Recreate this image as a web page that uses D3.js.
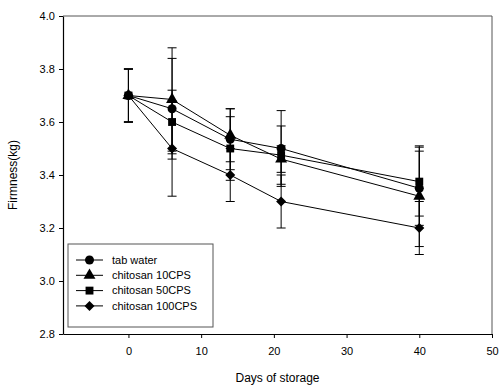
<!DOCTYPE html>
<html><head><meta charset="utf-8">
<script src="https://cdn.jsdelivr.net/npm/d3@7"></script>
<style>body{margin:0;background:#fff}svg{display:block}text{font-family:"Liberation Sans",Arial,sans-serif;fill:#000}</style>
</head><body><div id="chart"></div>
<script>
const days = [0, 6, 14, 21, 40];
const seriesNames = ["tab water", "chitosan 10CPS", "chitosan 50CPS", "chitosan 100CPS"];
const tabWater    = [3.70, 3.65, 3.535, 3.50, 3.35];
const chitosan10  = [3.70, 3.685, 3.55, 3.46, 3.32];
const chitosan50  = [3.70, 3.60, 3.50, 3.475, 3.375];
const chitosan100 = [3.70, 3.50, 3.40, 3.30, 3.20];
const errTabWater    = [0.10, 0.19, 0.115, 0.143, 0.14];
const errChitosan10  = [0.10, 0.195, 0.10, 0.05, 0.19];
const errChitosan50  = [0.10, 0.12, 0.12, 0.11, 0.13];
const errChitosan100 = [0.10, 0.18, 0.10, 0.10, 0.10];
const xTicks = [0, 10, 20, 30, 40, 50];
const yTicks = [2.8, 3.0, 3.2, 3.4, 3.6, 3.8, 4.0];
const markers = [d3.symbolCircle, d3.symbolTriangle, d3.symbolSquare, d3.symbolSquare];
const markerSizes = [64, 62, 62, 50];
const markerRotate = [0, 0, 0, 45];

const W = 499, H = 390;
const m = {left: 63, right: 7, top: 16, bottom: 56};
const svg = d3.select("#chart").append("svg").attr("width", W).attr("height", H);
const x = d3.scaleLinear().domain([-9, 50]).range([m.left, W - m.right]);
const y = d3.scaleLinear().domain([2.8, 4.0]).range([H - m.bottom, m.top]);

const series = [
  {name: seriesNames[0], vals: tabWater, err: errTabWater},
  {name: seriesNames[1], vals: chitosan10, err: errChitosan10},
  {name: seriesNames[2], vals: chitosan50, err: errChitosan50},
  {name: seriesNames[3], vals: chitosan100, err: errChitosan100}
];

// frame top/right
svg.append("line").attr("x1", x(-9)).attr("x2", x(50)).attr("y1", y(4)).attr("y2", y(4)).attr("stroke", "#555").attr("stroke-width", 1);
svg.append("line").attr("x1", x(50)).attr("x2", x(50)).attr("y1", y(4)).attr("y2", y(2.8)).attr("stroke", "#555").attr("stroke-width", 1);

const xAxis = svg.append("g").attr("transform", `translate(0,${y(2.8)})`)
  .call(d3.axisBottom(x).tickValues(xTicks).tickSize(4).tickSizeOuter(0).tickFormat(d3.format("d")));
const yAxis = svg.append("g").attr("transform", `translate(${x(-9)},0)`)
  .call(d3.axisLeft(y).tickValues(yTicks).tickSize(4).tickSizeOuter(0).tickFormat(d3.format(".1f")));
[xAxis, yAxis].forEach(g => {
  g.select(".domain").attr("stroke", "#000").attr("stroke-width", 1.2);
  g.selectAll(".tick line").attr("stroke", "#000");
  g.selectAll(".tick text").attr("font-size", 11).attr("font-family", "Liberation Sans, Arial, sans-serif");
});
xAxis.selectAll(".tick text").attr("dy", "1.3em");
yAxis.selectAll(".tick text").attr("dx", "-0.1em");

// error bars
series.forEach(s => {
  const g = svg.append("g").attr("stroke", "#000").attr("stroke-width", 1);
  days.forEach((d, i) => {
    const cx = x(d), lo = y(s.vals[i] - s.err[i]), hi = y(s.vals[i] + s.err[i]);
    g.append("line").attr("x1", cx).attr("x2", cx).attr("y1", lo).attr("y2", hi);
    g.append("line").attr("x1", cx - 4.5).attr("x2", cx + 4.5).attr("y1", lo).attr("y2", lo);
    g.append("line").attr("x1", cx - 4.5).attr("x2", cx + 4.5).attr("y1", hi).attr("y2", hi);
  });
});

// lines
const line = d3.line().x((d, i) => x(days[i])).y(d => y(d));
series.forEach(s => {
  svg.append("path").attr("d", line(s.vals)).attr("fill", "none").attr("stroke", "#000").attr("stroke-width", 1);
});
// markers
series.forEach((s, k) => {
  svg.append("g").selectAll("path").data(s.vals).join("path")
    .attr("transform", (d, i) => `translate(${x(days[i])},${y(d)}) rotate(${markerRotate[k]})`)
    .attr("d", d3.symbol().type(markers[k]).size(markerSizes[k]))
    .attr("fill", "#000");
});

// legend
const lg = svg.append("g").attr("transform", "translate(68,244)");
lg.append("rect").attr("width", 145).attr("height", 83).attr("fill", "#fff").attr("stroke", "#555").attr("stroke-width", 1);
series.forEach((s, k) => {
  const yy = 16 + k * 15.3;
  lg.append("line").attr("x1", 8).attr("x2", 35).attr("y1", yy).attr("y2", yy).attr("stroke", "#000");
  lg.append("path").attr("transform", `translate(21.5,${yy}) rotate(${markerRotate[k]})`).attr("d", d3.symbol().type(markers[k]).size(markerSizes[k])).attr("fill", "#000");
  lg.append("text").attr("x", 44).attr("y", yy).attr("dy", "0.35em").attr("font-size", 11).text(s.name);
});

// axis titles
svg.append("text").attr("x", (x(-9) + x(50)) / 2).attr("y", 382).attr("text-anchor", "middle").attr("font-size", 12).text("Days of storage");
svg.append("text").attr("transform", `translate(17,${(y(2.8) + y(4)) / 2}) rotate(-90)`).attr("text-anchor", "middle").attr("font-size", 12).text("Firmness(kg)");
</script></body></html>
